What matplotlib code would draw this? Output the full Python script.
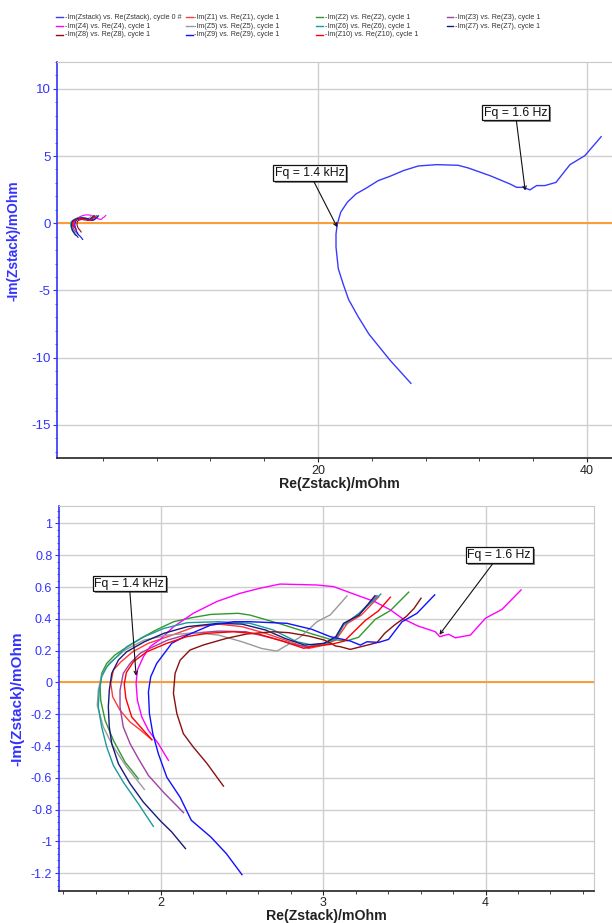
import matplotlib
matplotlib.use("Agg")
import matplotlib.pyplot as plt
from matplotlib.lines import Line2D
from matplotlib.patches import Rectangle
from matplotlib.ticker import MultipleLocator, FuncFormatter

plt.rcParams['font.family'] = ['Liberation Sans', 'DejaVu Sans']
plt.rcParams['axes.unicode_minus'] = False

# stack impedance (mOhm): Re and -Im
stack_re = [26.91, 25.35, 23.79, 23.0, 22.28, 21.88, 21.51, 21.34, 21.34, 21.44, 21.69, 22.18,
            22.83, 23.62, 24.48, 25.35, 26.34, 27.46, 28.83, 30.43, 31.18, 32.79, 34.28, 34.77,
            35.26, 35.76, 36.26, 36.87, 37.70, 38.74, 39.85, 41.06]
stack_im = [-11.92, -10.19, -8.26, -6.98, -5.69, -4.55, -3.39, -1.78, -0.79, -0.05, 0.82, 1.56,
            2.18, 2.63, 3.17, 3.49, 3.91, 4.26, 4.36, 4.31, 4.11, 3.54, 2.92, 2.67,
            2.67, 2.48, 2.80, 2.80, 3.04, 4.36, 5.03, 6.44]

# single cells
z1_re = [1.945, 1.872, 1.811, 1.749, 1.704, 1.692, 1.708, 1.755, 1.827, 1.923, 2.043, 2.212, 2.356,
         2.5, 2.645, 2.765, 2.91, 3.006, 3.078, 3.15, 3.235, 3.343]
z1_im = [-0.36, -0.297, -0.249, -0.175, -0.091, -0.006, 0.078, 0.13, 0.193, 0.246, 0.288, 0.351, 0.367,
         0.351, 0.309, 0.267, 0.214, 0.235, 0.267, 0.372, 0.424, 0.539]
z2_re = [1.862, 1.78, 1.708, 1.657, 1.63, 1.626, 1.636, 1.667, 1.718, 1.779, 1.875, 1.971, 2.079,
         2.188, 2.308, 2.476, 2.549, 2.741, 2.92, 3.044, 3.147, 3.218, 3.321, 3.414, 3.527]
z2_im = [-0.606, -0.501, -0.364, -0.238, -0.112, -0.028, 0.057, 0.12, 0.173, 0.214, 0.277, 0.33, 0.382,
         0.407, 0.428, 0.435, 0.424, 0.367, 0.309, 0.271, 0.262, 0.284, 0.397, 0.452, 0.568]
z3_re = [2.14, 2.016, 1.924, 1.862, 1.811, 1.769, 1.749, 1.749, 1.769, 1.811, 1.872, 1.923, 2.043,
         2.188, 2.356, 2.525, 2.693, 2.838, 2.91, 3.006, 3.078, 3.126, 3.222, 3.331]
z3_im = [-0.819, -0.69, -0.585, -0.479, -0.385, -0.28, -0.154, -0.049, 0.057, 0.12, 0.183, 0.21, 0.267,
         0.309, 0.323, 0.319, 0.277, 0.235, 0.225, 0.246, 0.277, 0.361, 0.435, 0.546]
z4_re = [2.047, 1.985, 1.924, 1.883, 1.856, 1.848, 1.856, 1.893, 1.934, 1.996, 2.078, 2.2, 2.345,
         2.489, 2.612, 2.735, 2.962, 3.064, 3.208, 3.319, 3.415, 3.487, 3.584, 3.691, 3.718, 3.773,
         3.814, 3.907, 4.0, 4.102, 4.219]
z4_im = [-0.49, -0.385, -0.301, -0.217, -0.112, -0.006, 0.078, 0.162, 0.225, 0.27, 0.35, 0.435, 0.509,
         0.561, 0.593, 0.619, 0.613, 0.603, 0.549, 0.508, 0.456, 0.403, 0.355, 0.319, 0.288, 0.303,
         0.281, 0.298, 0.404, 0.46, 0.582]
z5_re = [1.899, 1.79, 1.708, 1.646, 1.609, 1.615, 1.636, 1.682, 1.779, 1.899, 2.043, 2.212, 2.356,
         2.5, 2.621, 2.715, 2.797, 2.862, 2.962, 3.044, 3.147]
z5_im = [-0.673, -0.532, -0.406, -0.28, -0.143, -0.049, 0.046, 0.12, 0.204, 0.267, 0.298, 0.313, 0.298,
         0.256, 0.214, 0.197, 0.246, 0.288, 0.382, 0.425, 0.544]
z6_re = [1.954, 1.862, 1.769, 1.708, 1.667, 1.636, 1.615, 1.621, 1.636, 1.667, 1.718, 1.791, 1.899,
         2.019, 2.164, 2.356, 2.549, 2.693, 2.838, 2.934, 3.03, 3.078, 3.126, 3.222, 3.355]
z6_im = [-0.905, -0.763, -0.627, -0.522, -0.406, -0.28, -0.154, -0.049, 0.036, 0.098, 0.151, 0.225, 0.288,
         0.34, 0.376, 0.382, 0.372, 0.33, 0.256, 0.235, 0.246, 0.277, 0.361, 0.435, 0.556]
z7_re = [2.152, 2.067, 1.996, 1.893, 1.811, 1.739, 1.698, 1.683, 1.677, 1.683, 1.698, 1.739, 1.79,
         1.899, 2.019, 2.164, 2.356, 2.5, 2.645, 2.765, 2.886, 3.006, 3.078, 3.126, 3.222, 3.319]
z7_im = [-1.045, -0.94, -0.869, -0.753, -0.637, -0.511, -0.385, -0.28, -0.154, -0.049, 0.057, 0.141, 0.193,
         0.256, 0.309, 0.351, 0.372, 0.367, 0.33, 0.277, 0.235, 0.246, 0.288, 0.372, 0.424, 0.546]
z8_re = [2.386, 2.284, 2.2, 2.139, 2.099, 2.078, 2.088, 2.119, 2.18, 2.263, 2.407, 2.53, 2.693,
         2.789, 2.91, 3.006, 3.078, 3.105, 3.167, 3.249, 3.331, 3.379, 3.439, 3.511, 3.56, 3.603]
z8_im = [-0.652, -0.509, -0.406, -0.322, -0.196, -0.069, 0.057, 0.14, 0.204, 0.236, 0.278, 0.305, 0.319,
         0.313, 0.292, 0.267, 0.229, 0.225, 0.208, 0.229, 0.25, 0.309, 0.361, 0.414, 0.466, 0.53]
z9_re = [2.5, 2.404, 2.308, 2.188, 2.119, 2.037, 1.985, 1.951, 1.93, 1.924, 1.938, 1.975, 2.037,
         2.067, 2.164, 2.308, 2.452, 2.55, 2.777, 2.931, 3.044, 3.167, 3.229, 3.27, 3.342, 3.403,
         3.486, 3.578, 3.687]
z9_im = [-1.209, -1.077, -0.972, -0.867, -0.722, -0.596, -0.448, -0.322, -0.196, -0.059, 0.036, 0.12, 0.204,
         0.246, 0.298, 0.361, 0.382, 0.382, 0.372, 0.334, 0.288, 0.261, 0.235, 0.256, 0.252, 0.271,
         0.382, 0.435, 0.551]
z10_re = [1.945, 1.893, 1.821, 1.785, 1.775, 1.788, 1.831, 1.914, 2.037, 2.16, 2.284, 2.448, 2.6,
          2.75, 2.88, 2.96, 3.05, 3.13, 3.2, 3.26, 3.34, 3.414]
z10_im = [-0.36, -0.301, -0.217, -0.1, -0.01, 0.062, 0.13, 0.193, 0.246, 0.288, 0.309, 0.319, 0.305,
          0.26, 0.215, 0.23, 0.24, 0.26, 0.33, 0.39, 0.45, 0.536]

labels = ["-Im(Zstack) vs. Re(Zstack), cycle 0 #"] + \
         [f"-Im(Z{i}) vs. Re(Z{i}), cycle 1" for i in range(1, 11)]
colors = ['#3a3aff', '#ff3a3a', '#2e9a2e', '#a040a0', '#ff00ff', '#9a9a9a',
          '#1a9a9a', '#1a1a7a', '#8a1010', '#1010ff', '#ff0000']
cells = [(z1_re, z1_im), (z2_re, z2_im), (z3_re, z3_im), (z4_re, z4_im), (z5_re, z5_im),
         (z6_re, z6_im), (z7_re, z7_im), (z8_re, z8_im), (z9_re, z9_im), (z10_re, z10_im)]

# frequency markers: (text, Re, -Im)
stack_marks = [("Fq = 1.4 kHz", 21.43, -0.3), ("Fq = 1.6 Hz", 35.41, 2.43)]
cell_marks = [("Fq = 1.4 kHz", 1.848, 0.042), ("Fq = 1.6 Hz", 3.716, 0.30)]

W, H = 612, 923
fig = plt.figure(figsize=(W / 100, H / 100), dpi=100)

blue = '#3333ff'
grid_c = '#cfcfcf'
notes = []


def style(ax, xmaj, xmin, ymaj, ymin, ysize, ylab_size):
    ax.xaxis.set_major_locator(MultipleLocator(xmaj))
    ax.xaxis.set_minor_locator(MultipleLocator(xmin))
    ax.yaxis.set_major_locator(MultipleLocator(ymaj))
    ax.yaxis.set_minor_locator(MultipleLocator(ymin))
    ax.yaxis.set_major_formatter(FuncFormatter(lambda v, p: f"{v:g}" if abs(v) > 1e-9 else "0"))
    ax.xaxis.set_major_formatter(FuncFormatter(lambda v, p: f"{v:g}"))
    ax.grid(True, which='major', color=grid_c, lw=1)
    ax.set_axisbelow(True)
    ax.spines['left'].set_color(blue)
    ax.spines['left'].set_linewidth(1.2)
    ax.spines['bottom'].set_color('#222222')
    ax.spines['bottom'].set_linewidth(1.2)
    for s in ['top', 'right']:
        ax.spines[s].set_color('#c8c8c8')
    ax.tick_params(axis='y', which='both', colors=blue, labelsize=ysize, direction='out')
    ax.tick_params(axis='y', which='major', length=3, pad=2)
    ax.tick_params(axis='y', which='minor', length=1.5)
    ax.tick_params(axis='x', which='both', colors='#222222', labelsize=9, direction='out')
    ax.tick_params(axis='x', which='major', length=3, pad=1.5)
    ax.tick_params(axis='x', which='minor', length=2)
    ax.set_xlabel("Re(Zstack)/mOhm", fontsize=10.2, fontweight='bold', color='#222222', labelpad=0)
    ax.set_ylabel("-Im(Zstack)/mOhm", fontsize=ylab_size, fontweight='bold', color=blue)
    ax.axhline(0, color='#ff9a33', lw=1.4, zorder=1)


def mark(ax, text, x, y, tx, ty):
    a = ax.annotate(text, xy=(x, y), xytext=(tx, ty), textcoords='data', fontsize=8.8,
                    ha='center', va='center', color='#111111',
                    bbox=dict(boxstyle='square,pad=0.14', fc='white', ec='#111111', lw=0.9),
                    arrowprops=dict(arrowstyle='->', color='#111111', lw=0.8,
                                    shrinkA=0, shrinkB=0, mutation_scale=6), zorder=6)
    notes.append((ax, a))


# top: full stack view
ax1 = fig.add_axes([57.4 / W, 1 - 458.3 / H, 563 / W, (458.3 - 62) / H])
style(ax1, 20, 4, 5, 1, 9.5, 9.9)
ax1.plot(stack_re, stack_im, color=colors[0], lw=1, zorder=3)
for (re, im), c in zip(cells, colors[1:]):
    ax1.plot(re, im, color=c, lw=0.8, zorder=3)
ax1.set_xlim(0.62, 42.49)
ax1.set_ylim(-17.5, 12)
mark(ax1, stack_marks[0][0], stack_marks[0][1], stack_marks[0][2], 19.36, 3.75)
mark(ax1, stack_marks[1][0], stack_marks[1][1], stack_marks[1][2], 34.68, 8.22)
ax1.yaxis.set_label_coords(-0.065, 0.55)

# bottom: zoom on single cells
ax2 = fig.add_axes([59.3 / W, 1 - 890.7 / H, (594.3 - 59.3) / W, (890.7 - 506) / H])
style(ax2, 1, 0.2, 0.2, 0.04, 9, 11)
ax2.plot(stack_re, stack_im, color=colors[0], lw=1, zorder=3)
for (re, im), c in zip(cells, colors[1:]):
    ax2.plot(re, im, color=c, lw=1, zorder=3)
ax2.set_xlim(1.375, 4.67)
ax2.set_ylim(-1.31, 1.11)
mark(ax2, cell_marks[0][0], cell_marks[0][1], cell_marks[0][2], 1.806, 0.622)
mark(ax2, cell_marks[1][0], cell_marks[1][1], cell_marks[1][2], 4.084, 0.801)
ax2.yaxis.set_label_coords(-0.066, 0.5)

# legend laid out in rows like the source software
col_x = [56, 185.5, 316, 446.5]
row_y = [17.3, 26, 35]
for i, (lab, c) in enumerate(zip(labels, colors)):
    r, k = divmod(i, 4)
    x0 = col_x[k] / W
    y0 = 1 - row_y[r] / H
    fig.add_artist(Line2D([x0, x0 + 7 / W], [y0, y0], color=c, lw=1, transform=fig.transFigure))
    fig.text(x0 + 9 / W, y0, lab, fontsize=5.1, color='#333333', va='center', ha='left')

# grey drop shadow behind the marker boxes (drawn inside the axes, under the box)
fig.canvas.draw()
for ax, a in notes:
    bb = a.get_bbox_patch().get_window_extent()
    ax.add_patch(Rectangle(((bb.x0 + 2) / W, (bb.y0 - 2) / H), bb.width / W, bb.height / H,
                           transform=fig.transFigure, fc='#8a8a8a', ec='none',
                           zorder=5, clip_on=False))

fig.savefig("out.png", dpi=100)
